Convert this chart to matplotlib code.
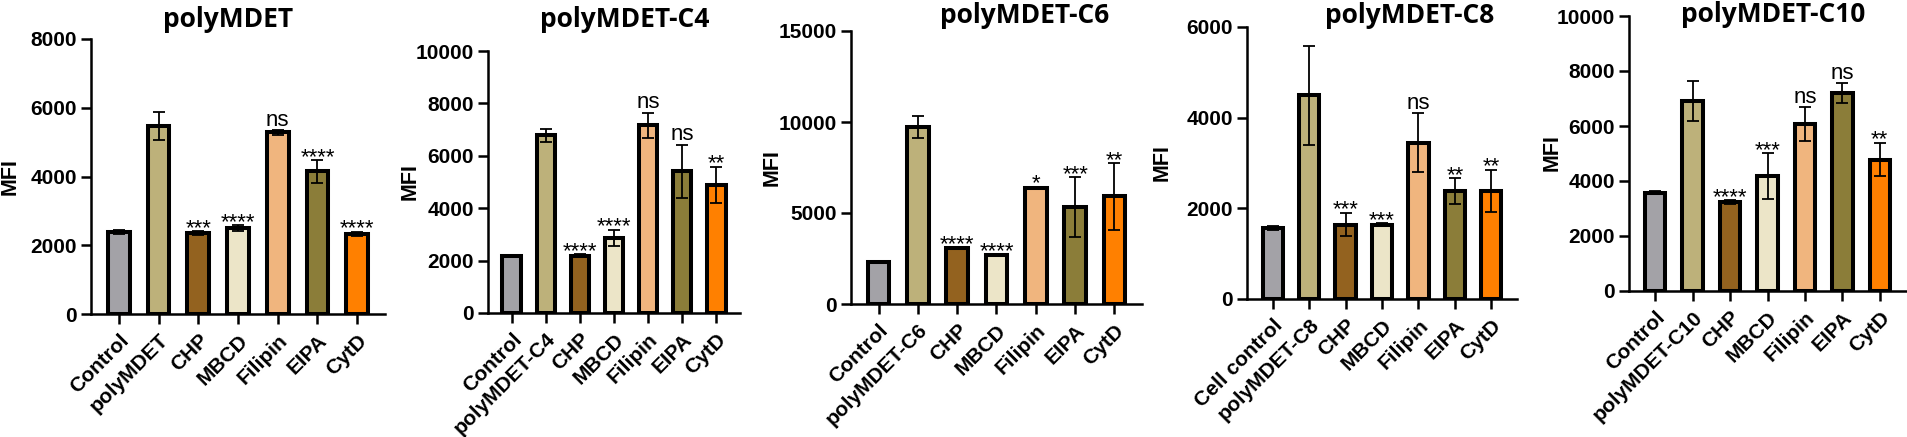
import numpy as np
import matplotlib.pyplot as plt

plt.rcParams['font.family'] = ['Liberation Sans', 'DejaVu Sans']
plt.rcParams['font.weight'] = 'bold'

W, H = 1907, 437

titles = ['polyMDET', 'polyMDET-C4', 'polyMDET-C6', 'polyMDET-C8', 'polyMDET-C10']

labels_1 = ['Control', 'polyMDET', 'CHP', 'MBCD', 'Filipin', 'EIPA', 'CytD']
labels_2 = ['Control', 'polyMDET-C4', 'CHP', 'MBCD', 'Filipin', 'EIPA', 'CytD']
labels_3 = ['Control', 'polyMDET-C6', 'CHP', 'MBCD', 'Filipin', 'EIPA', 'CytD']
labels_4 = ['Cell control', 'polyMDET-C8', 'CHP', 'MBCD', 'Filipin', 'EIPA', 'CytD']
labels_5 = ['Control', 'polyMDET-C10', 'CHP', 'MBCD', 'Filipin', 'EIPA', 'CytD']

means_1 = [2380, 5460, 2360, 2500, 5280, 4150, 2330]
errs_1 = [50, 410, 50, 80, 80, 330, 70]
sig_1 = ['', '', '***', '****', 'ns', '****', '****']

means_2 = [2160, 6780, 2190, 2860, 7160, 5410, 4890]
errs_2 = [40, 240, 50, 320, 490, 1020, 700]
sig_2 = ['', '', '****', '****', 'ns', 'ns', '**']

means_3 = [2310, 9740, 3080, 2680, 6400, 5310, 5910]
errs_3 = [60, 600, 40, 50, 40, 1650, 1820]
sig_3 = ['', '', '****', '****', '*', '***', '**']

means_4 = [1570, 4490, 1640, 1640, 3450, 2380, 2390]
errs_4 = [40, 1090, 260, 30, 650, 290, 460]
sig_4 = ['', '', '***', '***', 'ns', '**', '**']

means_5 = [3580, 6910, 3230, 4180, 6060, 7200, 4780]
errs_5 = [40, 720, 80, 840, 620, 360, 610]
sig_5 = ['', '', '****', '***', 'ns', 'ns', '**']

ymax = [8000, 10000, 15000, 6000, 10000]
ystep = [2000, 2000, 5000, 2000, 2000]

colors = ['#a3a2a7', '#bdb17a', '#93621f', '#ece5c8', '#f0b57e', '#8b7d39', '#ff8000']

panels = [
    (labels_1, means_1, errs_1, sig_1),
    (labels_2, means_2, errs_2, sig_2),
    (labels_3, means_3, errs_3, sig_3),
    (labels_4, means_4, errs_4, sig_4),
    (labels_5, means_5, errs_5, sig_5),
]

# pixel layout: left, top, right, bottom of each plot area
boxes = [(91, 39, 385, 314), (488, 51, 740, 313), (851, 31, 1142, 304),
         (1247, 27, 1517, 299), (1629, 16, 1906, 291)]
title_pos = [(228, 27), (625, 27), (1025, 23), (1410, 23), (1773, 22)]
ylab_pos = [(10, 177), (410, 182), (772, 168), (1162, 163), (1552, 153)]

fig = plt.figure(figsize=(W / 100, H / 100), dpi=100)

for i, (labels, means, errs, sig) in enumerate(panels):
    l, t, r, b = boxes[i]
    ax = fig.add_axes([l / W, 1 - b / H, (r - l) / W, (b - t) / H])
    x = np.arange(len(labels))
    ax.bar(x, means, width=0.55, color=colors, edgecolor='black', linewidth=2.9, zorder=2)
    ax.errorbar(x, means, yerr=errs, fmt='none', ecolor='black', elinewidth=1.3,
                capsize=4.5, capthick=1.3, zorder=3)
    for xi, m, e, s in zip(x, means, errs, sig):
        if s:
            ax.annotate(s, xy=(xi, m + e), xytext=(0, 3 if s == 'ns' else -2),
                        textcoords='offset points', ha='center', va='baseline',
                        fontsize=16, fontweight='normal', zorder=4)
    ax.set_xlim(-0.7, 6.7)
    ax.set_ylim(0, ymax[i])
    ax.set_yticks(np.arange(0, ymax[i] + 1, ystep[i]))
    ax.set_xticks(x)
    ax.set_xticklabels(labels, rotation=45, ha='right', rotation_mode='anchor')
    for sp in ['top', 'right']:
        ax.spines[sp].set_visible(False)
    for sp in ['left', 'bottom']:
        ax.spines[sp].set_linewidth(1.8)
    ax.tick_params(axis='both', direction='out', length=7, width=1.8)
    ax.tick_params(axis='y', labelsize=15, pad=3)
    ax.tick_params(axis='x', labelsize=15, pad=5)
    ax.patch.set_alpha(0)

    tx, ty = title_pos[i]
    fig.text(tx / W, 1 - ty / H, titles[i], ha='center', va='baseline',
             fontsize=19, fontweight='bold', family=['Open Sans', 'DejaVu Sans'])
    lx, ly = ylab_pos[i]
    fig.text(lx / W, 1 - ly / H, 'MFI', ha='center', va='center', rotation=90,
             fontsize=15.5, fontweight='bold')

fig.savefig('out.png', dpi=100)
